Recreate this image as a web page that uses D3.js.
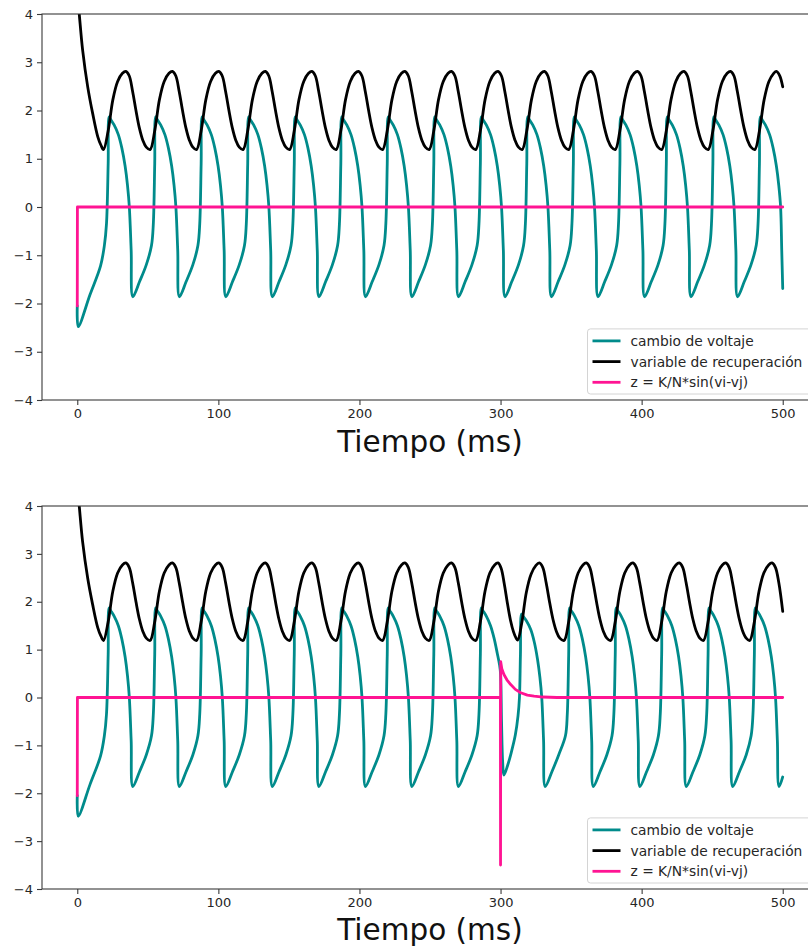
<!DOCTYPE html>
<html>
<head>
<meta charset="utf-8">
<script src="https://cdn.jsdelivr.net/npm/d3@7"></script>
<style>
  html, body { margin: 0; padding: 0; background: #fff; }
  svg { display: block; font-family: "DejaVu Sans", sans-serif; }
</style>
</head>
<body>
<svg id="chart" width="808" height="947"></svg>
<script>
// Tick values and legend labels
const xTicks = [0, 100, 200, 300, 400, 500];
const yTicks = [-4, -3, -2, -1, 0, 1, 2, 3, 4];
const seriesNames = ["cambio de voltaje", "variable de recuperación", "z = K/N*sin(vi-vj)"];
const axisLabel = "Tiempo (ms)";

// Membrane voltage, shared first part (t, v)
const voltageStart = [
  [0,-2.05],[0.7,-2.48],[9,-1.82],[16.5,-1.22],[19.2,-0.8],[20.7,-0.35],
  [21.9,0.9],[22.6,1.87],[23.6,1.82],[26.1,1.70],[29.1,1.50],[31.6,1.22],[33.9,0.85],[35.6,0.45],[36.9,0],[38.2,-0.9],[39.4,-1.86],[44.1,-1.55],[48.9,-1.20],
  [52.6,-0.80],[53.9,-0.35],[54.9,0.9],[55.6,1.87],[56.6,1.82],[59.1,1.70],[62.1,1.50],[64.6,1.22],[66.9,0.85],[68.6,0.45],[69.9,0],[71.2,-0.9],[72.4,-1.86],[77.1,-1.55],[81.9,-1.20],
  [85.5,-0.80],[86.8,-0.35],[87.8,0.9],[88.5,1.87],[89.5,1.82],[92.0,1.70],[95.0,1.50],[97.5,1.22],[99.8,0.85],[101.5,0.45],[102.8,0],[104.1,-0.9],[105.3,-1.86],[110.0,-1.55],[114.8,-1.20],
  [118.5,-0.80],[119.8,-0.35],[120.8,0.9],[121.5,1.87],[122.5,1.82],[125.0,1.70],[128.0,1.50],[130.5,1.22],[132.8,0.85],[134.5,0.45],[135.8,0],[137.1,-0.9],[138.3,-1.86],[143.0,-1.55],[147.8,-1.20],
  [151.5,-0.80],[152.8,-0.35],[153.8,0.9],[154.5,1.87],[155.5,1.82],[158.0,1.70],[161.0,1.50],[163.5,1.22],[165.8,0.85],[167.5,0.45],[168.8,0],[170.1,-0.9],[171.3,-1.86],[176.0,-1.55],[180.8,-1.20],
  [184.5,-0.80],[185.8,-0.35],[186.8,0.9],[187.5,1.87],[188.5,1.82],[191.0,1.70],[194.0,1.50],[196.5,1.22],[198.8,0.85],[200.5,0.45],[201.8,0],[203.1,-0.9],[204.3,-1.86],[209.0,-1.55],[213.8,-1.20],
  [217.4,-0.80],[218.7,-0.35],[219.7,0.9],[220.4,1.87],[221.4,1.82],[223.9,1.70],[226.9,1.50],[229.4,1.22],[231.7,0.85],[233.4,0.45],[234.7,0],[236.0,-0.9],[237.2,-1.86],[241.9,-1.55],[246.7,-1.20],
  [250.4,-0.80],[251.7,-0.35],[252.7,0.9],[253.4,1.87],[254.4,1.82],[256.9,1.70],[259.9,1.50],[262.4,1.22],[264.7,0.85],[266.4,0.45],[267.7,0],[269.0,-0.9],[270.2,-1.86],[274.9,-1.55],[279.7,-1.20]
];

// Voltage after t = 280, unperturbed run
const voltageTailA = [
  [283.4,-0.80],[284.7,-0.35],[285.7,0.9],[286.4,1.87],[287.4,1.82],[289.9,1.70],[292.9,1.50],[295.4,1.22],[297.7,0.85],[299.4,0.45],[300.7,0],[302.0,-0.9],[303.2,-1.86],[307.9,-1.55],[312.7,-1.20],
  [316.3,-0.80],[317.6,-0.35],[318.6,0.9],[319.3,1.87],[320.3,1.82],[322.8,1.70],[325.8,1.50],[328.3,1.22],[330.6,0.85],[332.3,0.45],[333.6,0],[334.9,-0.9],[336.1,-1.86],[340.8,-1.55],[345.6,-1.20],
  [349.3,-0.80],[350.6,-0.35],[351.6,0.9],[352.3,1.87],[353.3,1.82],[355.8,1.70],[358.8,1.50],[361.3,1.22],[363.6,0.85],[365.3,0.45],[366.6,0],[367.9,-0.9],[369.1,-1.86],[373.8,-1.55],[378.6,-1.20],
  [382.3,-0.80],[383.6,-0.35],[384.6,0.9],[385.3,1.87],[386.3,1.82],[388.8,1.70],[391.8,1.50],[394.3,1.22],[396.6,0.85],[398.3,0.45],[399.6,0],[400.9,-0.9],[402.1,-1.86],[406.8,-1.55],[411.6,-1.20],
  [415.2,-0.80],[416.5,-0.35],[417.5,0.9],[418.2,1.87],[419.2,1.82],[421.7,1.70],[424.7,1.50],[427.2,1.22],[429.5,0.85],[431.2,0.45],[432.5,0],[433.8,-0.9],[435.0,-1.86],[439.7,-1.55],[444.5,-1.20],
  [448.2,-0.80],[449.5,-0.35],[450.5,0.9],[451.2,1.87],[452.2,1.82],[454.7,1.70],[457.7,1.50],[460.2,1.22],[462.5,0.85],[464.2,0.45],[465.5,0],[466.8,-0.9],[468.0,-1.86],[472.7,-1.55],[477.5,-1.20],
  [481.2,-0.80],[482.5,-0.35],[483.5,0.9],[484.2,1.87],[485.2,1.82],[487.7,1.70],[490.7,1.50],[493.2,1.22],[495.5,0.85],[497.2,0.45],[498.5,0],[499.3,-0.9],[500,-1.69]
];

// Voltage after t = 280, with the kick at t = 300
const voltageTailB = [
  [283.4,-0.80],[284.7,-0.35],[285.7,0.9],[286.4,1.87],[287.4,1.82],[289.9,1.70],[292.9,1.50],[295.4,1.24],[297.7,0.92],[299.3,0.68],[300.0,0.5],[300.7,-0.5],[301.5,-1.35],[302.4,-1.62],
  [305.0,-1.42],[307.5,-1.16],[310.5,-0.78],[312.4,-0.38],[313.4,0],[314.1,0.9],[314.9,1.74],[315.9,1.70],[318.4,1.60],[321.4,1.42],[323.9,1.16],[326.2,0.80],[327.9,0.42],[329.2,0],[330.5,-0.9],[331.7,-1.86],[336.4,-1.55],[341.2,-1.20],
  [346.0,-0.80],[347.3,-0.35],[348.3,0.9],[349.0,1.87],[350.0,1.82],[352.5,1.70],[355.5,1.50],[358.0,1.22],[360.3,0.85],[362.0,0.45],[363.3,0],[364.6,-0.9],[365.8,-1.86],[370.5,-1.55],[375.3,-1.20],
  [379.0,-0.80],[380.3,-0.35],[381.3,0.9],[382.0,1.87],[383.0,1.82],[385.5,1.70],[388.5,1.50],[391.0,1.22],[393.3,0.85],[395.0,0.45],[396.3,0],[397.6,-0.9],[398.8,-1.86],[403.5,-1.55],[408.3,-1.20],
  [411.9,-0.80],[413.2,-0.35],[414.2,0.9],[414.9,1.87],[415.9,1.82],[418.4,1.70],[421.4,1.50],[423.9,1.22],[426.2,0.85],[427.9,0.45],[429.2,0],[430.5,-0.9],[431.7,-1.86],[436.4,-1.55],[441.2,-1.20],
  [444.8,-0.80],[446.1,-0.35],[447.1,0.9],[447.8,1.87],[448.8,1.82],[451.3,1.70],[454.3,1.50],[456.8,1.22],[459.1,0.85],[460.8,0.45],[462.1,0],[463.4,-0.9],[464.6,-1.86],[469.3,-1.55],[474.1,-1.20],
  [477.6,-0.80],[478.9,-0.35],[479.9,0.9],[480.6,1.87],[481.6,1.82],[484.1,1.70],[487.1,1.50],[489.6,1.22],[491.9,0.85],[493.6,0.45],[494.9,0],[496.2,-0.9],[497.4,-1.86],[500,-1.66]
];

// Recovery variable, shared first part (t, w)
const recoveryStart = [
  [0,4.45],[1.4,4.0],[3.8,3.25],[7.4,2.49],[10.9,1.94],[14.5,1.46],[16.8,1.28],[18.6,1.19],
  [21.9,1.58],[25.2,2.22],[28.6,2.60],[32.0,2.77],[34.4,2.81],[36.8,2.72],[39.2,2.40],[41.6,2.00],[44.0,1.64],[46.5,1.38],[48.9,1.24],
  [51.6,1.19],[54.9,1.58],[58.2,2.22],[61.6,2.60],[65.0,2.77],[67.4,2.81],[69.8,2.72],[72.2,2.40],[74.6,2.00],[77.0,1.64],[79.5,1.38],[81.9,1.24],
  [84.5,1.19],[87.8,1.58],[91.1,2.22],[94.5,2.60],[97.9,2.77],[100.3,2.81],[102.7,2.72],[105.1,2.40],[107.5,2.00],[109.9,1.64],[112.4,1.38],[114.8,1.24],
  [117.5,1.19],[120.8,1.58],[124.1,2.22],[127.5,2.60],[130.9,2.77],[133.3,2.81],[135.7,2.72],[138.1,2.40],[140.5,2.00],[142.9,1.64],[145.4,1.38],[147.8,1.24],
  [150.5,1.19],[153.8,1.58],[157.1,2.22],[160.5,2.60],[163.9,2.77],[166.3,2.81],[168.7,2.72],[171.1,2.40],[173.5,2.00],[175.9,1.64],[178.4,1.38],[180.8,1.24],
  [183.5,1.19],[186.8,1.58],[190.1,2.22],[193.5,2.60],[196.9,2.77],[199.3,2.81],[201.7,2.72],[204.1,2.40],[206.5,2.00],[208.9,1.64],[211.4,1.38],[213.8,1.24],
  [216.4,1.19],[219.7,1.58],[223.0,2.22],[226.4,2.60],[229.8,2.77],[232.2,2.81],[234.6,2.72],[237.0,2.40],[239.4,2.00],[241.8,1.64],[244.3,1.38],[246.7,1.24],
  [249.4,1.19],[252.7,1.58],[256.0,2.22],[259.4,2.60],[262.8,2.77],[265.2,2.81],[267.6,2.72],[270.0,2.40],[272.4,2.00],[274.8,1.64],[277.3,1.38],[279.7,1.24]
];

const recoveryTailA = [
  [282.4,1.19],[285.7,1.58],[289.0,2.22],[292.4,2.60],[295.8,2.77],[298.2,2.81],[300.6,2.72],[303.0,2.40],[305.4,2.00],[307.8,1.64],[310.3,1.38],[312.7,1.24],
  [315.3,1.19],[318.6,1.58],[321.9,2.22],[325.3,2.60],[328.7,2.77],[331.1,2.81],[333.5,2.72],[335.9,2.40],[338.3,2.00],[340.7,1.64],[343.2,1.38],[345.6,1.24],
  [348.3,1.19],[351.6,1.58],[354.9,2.22],[358.3,2.60],[361.7,2.77],[364.1,2.81],[366.5,2.72],[368.9,2.40],[371.3,2.00],[373.7,1.64],[376.2,1.38],[378.6,1.24],
  [381.3,1.19],[384.6,1.58],[387.9,2.22],[391.3,2.60],[394.7,2.77],[397.1,2.81],[399.5,2.72],[401.9,2.40],[404.3,2.00],[406.7,1.64],[409.2,1.38],[411.6,1.24],
  [414.2,1.19],[417.5,1.58],[420.8,2.22],[424.2,2.60],[427.6,2.77],[430.0,2.81],[432.4,2.72],[434.8,2.40],[437.2,2.00],[439.6,1.64],[442.1,1.38],[444.5,1.24],
  [447.2,1.19],[450.5,1.58],[453.8,2.22],[457.2,2.60],[460.6,2.77],[463.0,2.81],[465.4,2.72],[467.8,2.40],[470.2,2.00],[472.6,1.64],[475.1,1.38],[477.5,1.24],
  [480.2,1.19],[483.5,1.58],[486.8,2.22],[490.2,2.60],[493.6,2.77],[495.5,2.81],[497.9,2.72],[500,2.49]
];

const recoveryTailB = [
  [282.4,1.19],[285.7,1.58],[289.0,2.22],[292.4,2.60],[295.8,2.77],[298.2,2.81],[300.4,2.70],[302.6,2.38],[304.8,1.98],[307.0,1.62],[309.2,1.37],[311.0,1.24],[312.2,1.20],
  [315.0,1.55],[318.3,2.20],[321.7,2.58],[325.1,2.76],[327.5,2.81],[329.9,2.72],[332.3,2.40],[334.7,2.00],[337.1,1.64],[339.6,1.38],[342.0,1.24],
  [345.0,1.19],[348.3,1.58],[351.6,2.22],[355.0,2.60],[358.4,2.77],[360.8,2.81],[363.2,2.72],[365.6,2.40],[368.0,2.00],[370.4,1.64],[372.9,1.38],[375.3,1.24],
  [378.0,1.19],[381.3,1.58],[384.6,2.22],[388.0,2.60],[391.4,2.77],[393.8,2.81],[396.2,2.72],[398.6,2.40],[401.0,2.00],[403.4,1.64],[405.9,1.38],[408.3,1.24],
  [410.9,1.19],[414.2,1.58],[417.5,2.22],[420.9,2.60],[424.3,2.77],[426.7,2.81],[429.1,2.72],[431.5,2.40],[433.9,2.00],[436.3,1.64],[438.8,1.38],[441.2,1.24],
  [443.8,1.19],[447.1,1.58],[450.4,2.22],[453.8,2.60],[457.2,2.77],[459.6,2.81],[462.0,2.72],[464.4,2.40],[466.8,2.00],[469.2,1.64],[471.7,1.38],[474.1,1.24],
  [476.6,1.19],[479.9,1.58],[483.2,2.22],[486.6,2.60],[490.0,2.77],[492.4,2.81],[494.8,2.72],[497.2,2.40],[500,1.80]
];

// Coupling term z = K/N*sin(vi-vj)
const couplingA = [[0,-2.05],[0.1,0],[500,0]];
const couplingB = [
  [0,-2.05],[0.1,0],[299.9,0],[300,-3.5],[300.1,0.75],[300.9,0.6],[302.4,0.48],[304.5,0.37],[307.2,0.27],
  [310.5,0.17],[314.3,0.1],[319,0.05],[323.8,0.03],[330,0.01],[340,0],[500,0]
];

const colors = ["#008b8b", "#000000", "#ff1493"];

const panels = [
  { top: 14,  bottom: 400, labelY: 452, series: [voltageStart.concat(voltageTailA), recoveryStart.concat(recoveryTailA), couplingA] },
  { top: 506, bottom: 889, labelY: 940, series: [voltageStart.concat(voltageTailB), recoveryStart.concat(recoveryTailB), couplingB] }
];

const left = 42, right = 818;
const svg = d3.select("#chart");
const axisColor = "#3a3a3a";
const textColor = "#262626";
const tickFont = 13;
const legendFont = 13.8;
const smooth = d3.curveCatmullRom.alpha(0.5);

panels.forEach((p, i) => {
  const x = d3.scaleLinear().domain([-25, 525]).range([left, right]);
  const y = d3.scaleLinear().domain([-4, 4]).range([p.bottom, p.top]);

  const g = svg.append("g");
  const clipId = "clip" + i;
  svg.append("defs").append("clipPath").attr("id", clipId)
    .append("rect").attr("x", left).attr("y", p.top)
    .attr("width", right - left).attr("height", p.bottom - p.top);

  const plot = g.append("g").attr("clip-path", `url(#${clipId})`);
  const curves = [smooth, smooth, d3.curveLinear];
  p.series.forEach((data, k) => {
    const line = d3.line().x(d => x(d[0])).y(d => y(d[1])).curve(curves[k]);
    plot.append("path").datum(data)
      .attr("d", line)
      .attr("fill", "none")
      .attr("stroke", colors[k])
      .attr("stroke-width", 2.8)
      .attr("stroke-linejoin", "round")
      .attr("stroke-linecap", "round");
  });

  // Axes
  const xAxis = d3.axisBottom(x).tickValues(xTicks).tickSize(5).tickPadding(4).tickFormat(d3.format("d"));
  const yAxis = d3.axisLeft(y).tickValues(yTicks).tickSize(5).tickPadding(4)
    .tickFormat(d => d < 0 ? "\u2212" + Math.abs(d) : String(d));

  const gx = g.append("g").attr("transform", `translate(0,${p.bottom})`).call(xAxis);
  const gy = g.append("g").attr("transform", `translate(${left},0)`).call(yAxis);
  [gx, gy].forEach(a => {
    a.select(".domain").remove();
    a.selectAll(".tick line").attr("stroke", axisColor).attr("stroke-width", 1.1);
    a.selectAll(".tick text").attr("fill", textColor)
      .style("font-family", "DejaVu Sans").style("font-size", tickFont + "px");
  });

  // Frame
  g.append("rect").attr("x", left).attr("y", p.top)
    .attr("width", right - left).attr("height", p.bottom - p.top)
    .attr("fill", "none").attr("stroke", axisColor).attr("stroke-width", 1.1);

  // x label
  g.append("text").attr("x", (left + right) / 2).attr("y", p.labelY)
    .attr("text-anchor", "middle").attr("fill", "#111")
    .style("font-size", "29.5px").text(axisLabel);

  // Legend, lower right
  const rowH = legendFont * 1.5;
  const boxH = rowH * 3 + 3;
  const boxX = 587.5;
  const boxW = right - 7 - boxX;
  const boxY = p.bottom - 6 - boxH;
  const lg = g.append("g");
  lg.append("rect").attr("x", boxX).attr("y", boxY).attr("width", boxW).attr("height", boxH)
    .attr("rx", 3).attr("fill", "#fff").attr("fill-opacity", 0.85)
    .attr("stroke", "#d4d4d4").attr("stroke-width", 1);
  seriesNames.forEach((name, k) => {
    const cy = boxY + 12 + k * rowH;
    lg.append("line").attr("x1", boxX + 5).attr("x2", boxX + 33).attr("y1", cy).attr("y2", cy)
      .attr("stroke", colors[k]).attr("stroke-width", 2.8);
    lg.append("text").attr("x", boxX + 43).attr("y", cy).attr("dy", "0.36em")
      .attr("fill", textColor).style("font-size", legendFont + "px").text(name);
  });
});
</script>
</body>
</html>
